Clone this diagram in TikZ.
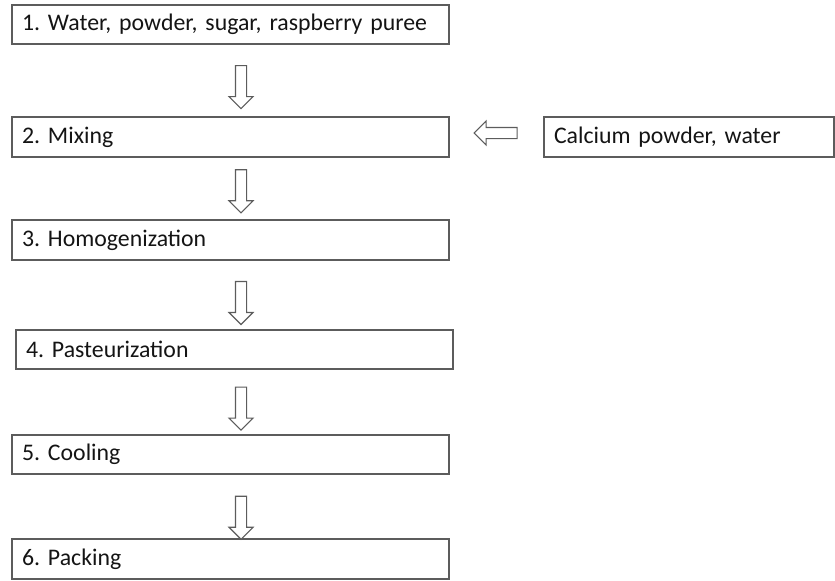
\documentclass[tikz,border=0pt]{standalone}
\usepackage{fontspec}
\setmainfont{Carlito}
\usetikzlibrary{shapes.arrows,calc}

\definecolor{linegray}{HTML}{5C5C5C}
\definecolor{inkgray}{HTML}{141414}

\frenchspacing

\begin{document}
\begin{tikzpicture}[
  x=0.5pt, y=-0.5pt,
  every node/.style={font=\fontsize{11.9}{14}\selectfont, text=inkgray},
  stepbox/.style={draw=linegray, line width=0.8pt, minimum height=19.75pt,
    inner xsep=5pt, inner ysep=0pt, text width=208.5pt, align=left},
  addbox/.style={stepbox, text width=135pt},
  flowarrow/.style={single arrow, draw=linegray, line width=0.55pt,
    fill=white, minimum height=21.5pt, inner sep=2.5pt,
    single arrow head extend=3.25pt}
]

\path[use as bounding box] (0,0) rectangle (835,580);

% Process steps.
\node[stepbox] (b1) at (230.5, 24.5) {1. Water, powder, sugar, raspberry puree};
\node[stepbox] (b2) at (230.5,137.0) {2. Mixing};
\node[stepbox] (b3) at (230.5,240.0) {3. Homogenization};
\node[stepbox] (b4) at (234.5,349.5) {4. Pasteurization};
\node[stepbox] (b5) at (230.5,454.5) {5. Cooling};
\node[stepbox] (b6) at (230.5,559.0) {6. Packing};

% Added ingredients.
\node[addbox] (calc) at (689,137) {Calcium powder, water};

% Arrows down the column.
\coordinate (col) at (241,0);
\foreach \i/\j/\f in {1/2/.55, 2/3/.5, 3/4/.58, 4/5/.56, 5/6/.63} {
  \coordinate (m\i) at ($(b\i.south)!\f!(b\j.north)$);
  \node[flowarrow, shape border rotate=270] (a\i) at (col |- m\i) {};
}

% Side input into mixing.
\node[flowarrow, shape border rotate=180] (aside)
  at ($(b2.east)!.52!(calc.west)+(0,-4)$) {};

\end{tikzpicture}
\end{document}
